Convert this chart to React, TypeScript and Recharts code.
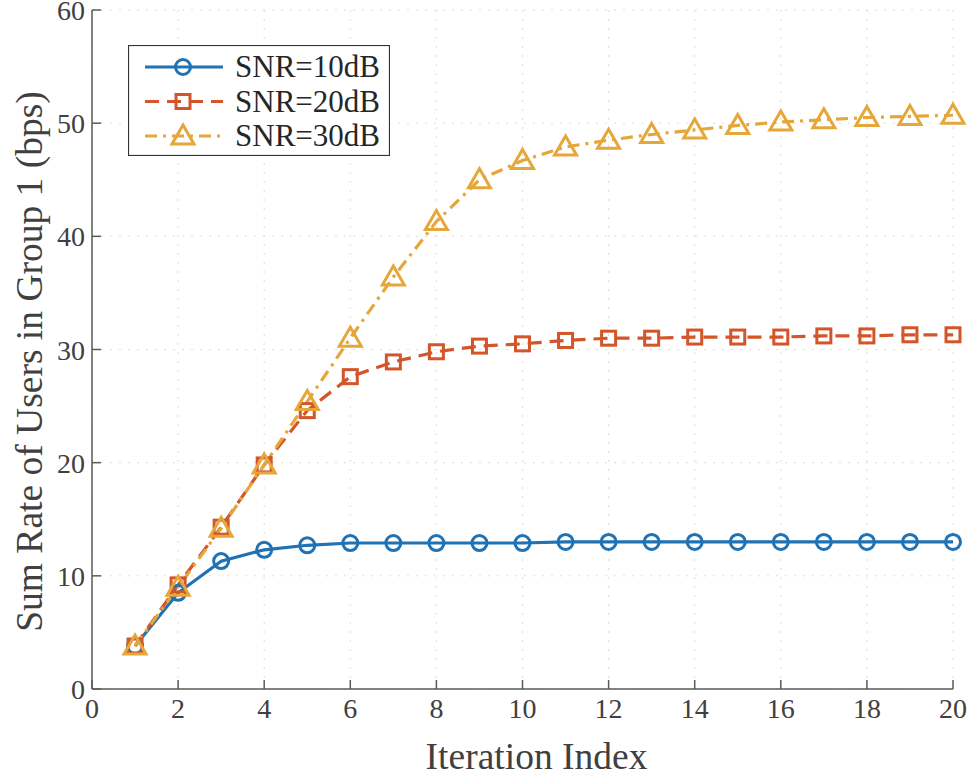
import React from "react"
import {
  CartesianGrid,
  Legend,
  Line,
  LineChart,
  XAxis,
  YAxis,
} from "recharts"

const iterations = [1, 2, 3, 4, 5, 6, 7, 8, 9, 10, 11, 12, 13, 14, 15, 16, 17, 18, 19, 20]

const snr10 = [3.8, 8.5, 11.3, 12.3, 12.7, 12.9, 12.9, 12.9, 12.9, 12.9, 13.0, 13.0, 13.0, 13.0, 13.0, 13.0, 13.0, 13.0, 13.0, 13.0]
const snr20 = [3.8, 9.2, 14.3, 19.8, 24.6, 27.6, 28.9, 29.8, 30.3, 30.5, 30.8, 31.0, 31.0, 31.1, 31.1, 31.1, 31.2, 31.2, 31.3, 31.3]
const snr30 = [3.8, 9.0, 14.2, 19.8, 25.4, 31.0, 36.4, 41.3, 45.0, 46.7, 47.9, 48.5, 49.0, 49.4, 49.8, 50.1, 50.3, 50.5, 50.6, 50.7]

const xTicks = [0, 2, 4, 6, 8, 10, 12, 14, 16, 18, 20]
const yTicks = [0, 10, 20, 30, 40, 50, 60]

const seriesNames = ["SNR=10dB", "SNR=20dB", "SNR=30dB"]

const BLUE = "#1f72b4"
const RED = "#d35529"
const GOLD = "#e5a63a"
const AXIS = "#5a5a5a"
const TEXT = "#404040"
const SERIF = "Liberation Serif"

const data = iterations.map((it, i) => ({
  it,
  s10: snr10[i],
  s20: snr20[i],
  s30: snr30[i],
}))

type MarkerKind = "circle" | "square" | "triangle"

function Marker({ kind, cx, cy, color }: { kind: MarkerKind; cx: number; cy: number; color: string }) {
  if (kind === "circle") {
    return <circle cx={cx} cy={cy} r={7.5} fill="none" stroke={color} strokeWidth={3} />
  }
  if (kind === "square") {
    return <rect x={cx - 7} y={cy - 7} width={14} height={14} fill="none" stroke={color} strokeWidth={3} />
  }
  return (
    <polygon
      points={`${cx},${cy - 11} ${cx - 11},${cy + 8} ${cx + 11},${cy + 8}`}
      fill="none"
      stroke={color}
      strokeWidth={3}
    />
  )
}

const dotOf = (kind: MarkerKind, color: string) => (p: any) => (
  <Marker key={`${kind}-${p.index}`} kind={kind} cx={p.cx} cy={p.cy} color={color} />
)

const TICK_MARGIN = 8
const TICK_LEN = 9

// plain svg text in the serif face, used for every axis string
function SerifText({ children, ...rest }: any) {
  return (
    <text fontFamily={SERIF} fill={TEXT} style={{ fontFamily: SERIF }} {...rest}>
      {children}
    </text>
  )
}

function LeftTick(p: any) {
  const x0 = p.x + TICK_MARGIN
  return (
    <g>
      <line x1={x0} x2={x0 + TICK_LEN} y1={p.y} y2={p.y} stroke={AXIS} strokeWidth={1.5} />
      <SerifText x={p.x + 1} y={p.y} dy={10} textAnchor="end" fontSize={28}>
        {p.payload.value}
      </SerifText>
    </g>
  )
}

function BottomTick(p: any) {
  const y0 = p.y - TICK_MARGIN
  return (
    <g>
      <line x1={p.x} x2={p.x} y1={y0} y2={y0 - TICK_LEN} stroke={AXIS} strokeWidth={1.5} />
      <SerifText x={p.x} y={p.y} dy={21} textAnchor="middle" fontSize={28}>
        {p.payload.value}
      </SerifText>
    </g>
  )
}

function RightTick(p: any) {
  const x0 = p.x - TICK_MARGIN
  return <line x1={x0} x2={x0 - TICK_LEN} y1={p.y} y2={p.y} stroke={AXIS} strokeWidth={1.5} />
}

function TopTick(p: any) {
  const y0 = p.y + TICK_MARGIN
  return <line x1={p.x} x2={p.x} y1={y0} y2={y0 + TICK_LEN} stroke={AXIS} strokeWidth={1.5} />
}

function YTitle(p: any) {
  const vb = p.viewBox
  const cy = vb.y + vb.height / 2 + 12
  return (
    <SerifText x={42} y={cy} transform={`rotate(-90 42 ${cy})`} textAnchor="middle" fontSize={37.5}>
      Sum Rate of Users in Group 1 (bps)
    </SerifText>
  )
}

function XTitle(p: any) {
  const vb = p.viewBox
  const cx = vb.x + vb.width / 2 + 14
  return (
    <SerifText x={cx} y={769} textAnchor="middle" fontSize={37.5}>
      Iteration Index
    </SerifText>
  )
}

function LegendBox() {
  const rows: { kind: MarkerKind; color: string; dash?: string }[] = [
    { kind: "circle", color: BLUE },
    { kind: "square", color: RED, dash: "14 8" },
    { kind: "triangle", color: GOLD, dash: "12 6 3 6" },
  ]
  return (
    <svg width={262} height={111} style={{ display: "block" }}>
      <rect x={0.5} y={0.5} width={261} height={110} fill="#fff" stroke="#333" strokeWidth={1.2} />
      {rows.map((r, i) => {
        const cy = 22 + i * 34.5
        return (
          <g key={r.kind}>
            <line x1={17} x2={95} y1={cy} y2={cy} stroke={r.color} strokeWidth={3} strokeDasharray={r.dash} />
            <Marker kind={r.kind} cx={55} cy={cy} color={r.color} />
            <SerifText x={107} y={cy + 10} fontSize={31} fill="#262626">
              {seriesNames[i]}
            </SerifText>
          </g>
        )
      })}
    </svg>
  )
}

export default function App() {
  return (
    <div
      style={{
        position: "absolute",
        left: 0,
        top: 0,
        width: 972,
        height: 778,
        background: "#fff",
        fontFamily: SERIF,
      }}
    >
      <LineChart width={972} height={778} data={data} margin={{ top: 10, right: 19, left: 0, bottom: 0 }}>
        <CartesianGrid stroke="#dcdcdc" strokeDasharray="2 7" strokeWidth={1} />
        <XAxis
          dataKey="it"
          type="number"
          domain={[0, 20]}
          ticks={xTicks}
          height={89}
          tickLine={false}
          tickSize={0}
          tickMargin={TICK_MARGIN}
          axisLine={{ stroke: AXIS, strokeWidth: 1.5 }}
          tick={<BottomTick />}
          interval={0}
          label={<XTitle />}
        />
        <XAxis
          xAxisId="top"
          dataKey="it"
          type="number"
          orientation="top"
          domain={[0, 20]}
          ticks={xTicks}
          height={0}
          tickLine={false}
          tickSize={0}
          tickMargin={TICK_MARGIN}
          axisLine={{ stroke: AXIS, strokeWidth: 1.5 }}
          tick={<TopTick />}
          interval={0}
        />
        <YAxis
          type="number"
          domain={[0, 60]}
          ticks={yTicks}
          width={92}
          tickLine={false}
          tickSize={0}
          tickMargin={TICK_MARGIN}
          axisLine={{ stroke: AXIS, strokeWidth: 1.5 }}
          tick={<LeftTick />}
          interval={0}
          label={<YTitle />}
        />
        <YAxis
          yAxisId="right"
          orientation="right"
          type="number"
          domain={[0, 60]}
          ticks={yTicks}
          width={0}
          tickLine={false}
          tickSize={0}
          tickMargin={TICK_MARGIN}
          axisLine={{ stroke: AXIS, strokeWidth: 1.5 }}
          tick={<RightTick />}
          interval={0}
        />
        <Legend
          layout="vertical"
          align="center"
          verticalAlign="middle"
          content={() => <LegendBox />}
          wrapperStyle={{ left: 128, top: 45, width: 262, height: 111 }}
        />
        <Line
          dataKey="s10"
          name={seriesNames[0]}
          stroke={BLUE}
          strokeWidth={3.2}
          dot={dotOf("circle", BLUE)}
          activeDot={false}
          isAnimationActive={false}
        />
        <Line
          dataKey="s20"
          name={seriesNames[1]}
          stroke={RED}
          strokeWidth={3.2}
          strokeDasharray="14 8"
          dot={dotOf("square", RED)}
          activeDot={false}
          isAnimationActive={false}
        />
        <Line
          dataKey="s30"
          name={seriesNames[2]}
          stroke={GOLD}
          strokeWidth={3.2}
          strokeDasharray="12 6 3 6"
          dot={dotOf("triangle", GOLD)}
          activeDot={false}
          isAnimationActive={false}
        />
      </LineChart>
    </div>
  )
}
